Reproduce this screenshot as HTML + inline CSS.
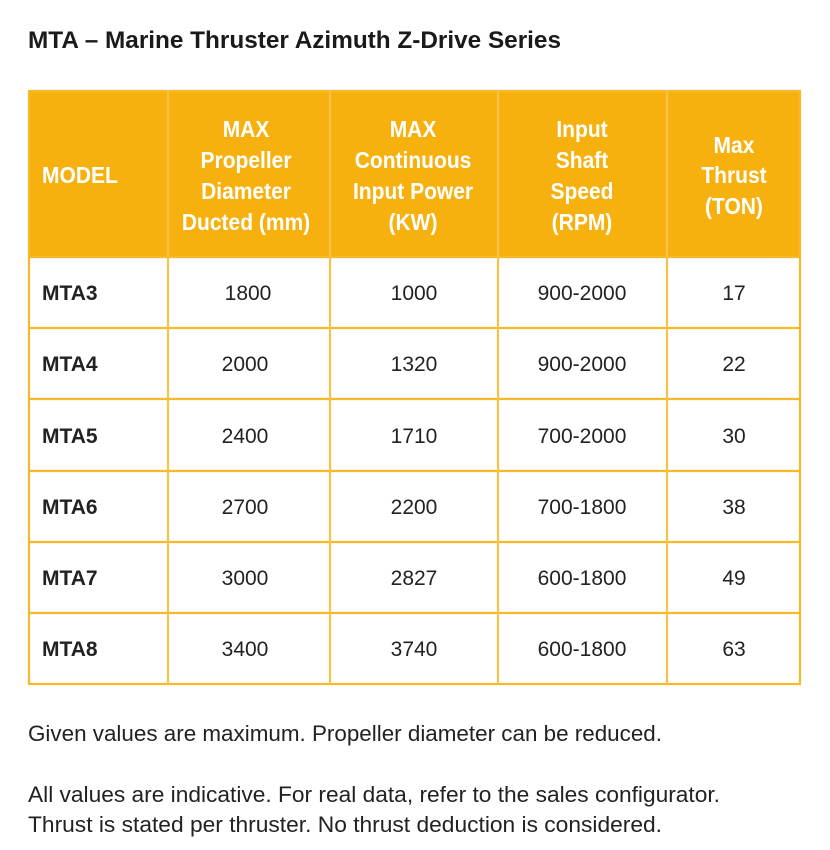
<!DOCTYPE html>
<html><head><meta charset="utf-8"><style>
body{margin:0;background:#fff;}
svg{display:block}
text{font-family:"Liberation Sans",sans-serif;}
</style></head><body>
<svg width="830" height="850" viewBox="0 0 830 850" xmlns="http://www.w3.org/2000/svg">
<rect width="830" height="850" fill="#fff"/>
<text x="28" y="48" font-size="24" font-weight="bold" fill="#1a1a1a" textLength="533" lengthAdjust="spacingAndGlyphs">MTA – Marine Thruster Azimuth Z-Drive Series</text>
<rect x="28" y="90" width="772" height="167" fill="#f7b10f"/>
<g stroke="#f7b928" stroke-width="2.2" fill="none">
<rect x="29" y="91" width="771" height="593"/>
<line x1="29" y1="328" x2="800" y2="328"/><line x1="29" y1="399" x2="800" y2="399"/>
<line x1="29" y1="471" x2="800" y2="471"/><line x1="29" y1="542" x2="800" y2="542"/>
<line x1="29" y1="613" x2="800" y2="613"/>
<line x1="29" y1="257" x2="800" y2="257"/>
</g>
<g stroke="#f7c24a" stroke-width="2.2">
<line x1="168" y1="91" x2="168" y2="684"/><line x1="330" y1="91" x2="330" y2="684"/>
<line x1="498" y1="91" x2="498" y2="684"/><line x1="667" y1="91" x2="667" y2="684"/>
</g>
<g transform="scale(0.894,1)" fill="#fff" font-size="23.5" font-weight="bold" text-anchor="middle">
<text x="47" y="183" text-anchor="start">MODEL</text>
<text x="275.2" y="137">MAX</text><text x="275.2" y="168">Propeller</text><text x="275.2" y="199">Diameter</text><text x="275.2" y="230">Ducted (mm)</text>
<text x="462" y="137">MAX</text><text x="462" y="168">Continuous</text><text x="462" y="199">Input Power</text><text x="462" y="230">(KW)</text>
<text x="651" y="137">Input</text><text x="651" y="168">Shaft</text><text x="651" y="199">Speed</text><text x="651" y="230">(RPM)</text>
<text x="821" y="153">Max</text><text x="821" y="183">Thrust</text><text x="821" y="214">(TON)</text>
</g>
<g font-size="21" fill="#222" text-anchor="middle">
<g font-weight="bold" text-anchor="start">
<text x="42" y="300">MTA3</text><text x="42" y="371">MTA4</text><text x="42" y="443">MTA5</text>
<text x="42" y="514">MTA6</text><text x="42" y="585">MTA7</text><text x="42" y="656">MTA8</text>
</g>
<text x="248" y="300">1800</text><text x="414" y="300">1000</text><text x="582" y="300">900-2000</text><text x="734" y="300">17</text>
<text x="245" y="371">2000</text><text x="414" y="371">1320</text><text x="582" y="371">900-2000</text><text x="734" y="371">22</text>
<text x="245" y="443">2400</text><text x="414" y="443">1710</text><text x="582" y="443">700-2000</text><text x="734" y="443">30</text>
<text x="245" y="514">2700</text><text x="414" y="514">2200</text><text x="582" y="514">700-1800</text><text x="734" y="514">38</text>
<text x="245" y="585">3000</text><text x="414" y="585">2827</text><text x="582" y="585">600-1800</text><text x="734" y="585">49</text>
<text x="245" y="656">3400</text><text x="414" y="656">3740</text><text x="582" y="656">600-1800</text><text x="734" y="656">63</text>
</g>
<g font-size="22" fill="#222">
<text x="28" y="741" textLength="634" lengthAdjust="spacingAndGlyphs">Given values are maximum. Propeller diameter can be reduced.</text>
<text x="28" y="802" textLength="692" lengthAdjust="spacingAndGlyphs">All values are indicative. For real data, refer to the sales configurator.</text>
<text x="28" y="832" textLength="634" lengthAdjust="spacingAndGlyphs">Thrust is stated per thruster. No thrust deduction is considered.</text>
</g>
</svg>
</body></html>
